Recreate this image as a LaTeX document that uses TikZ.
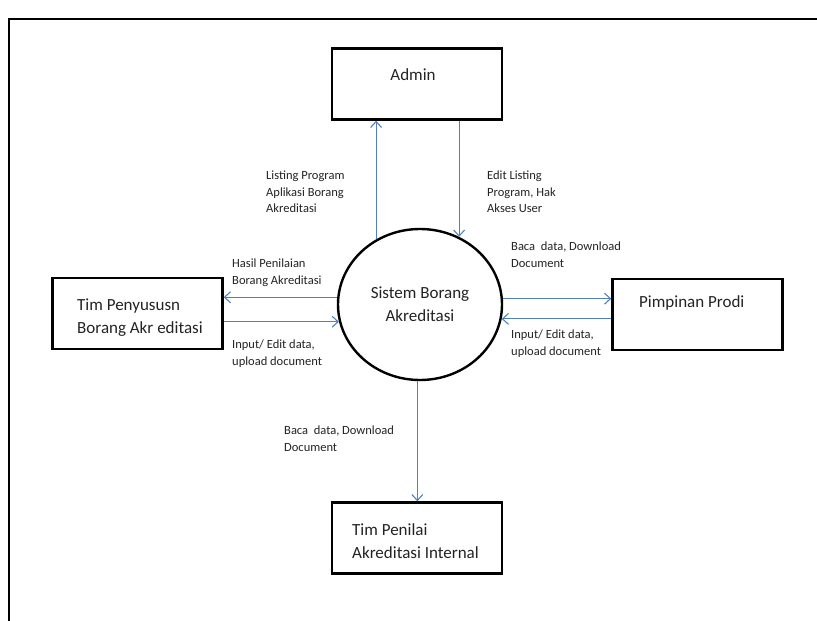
\documentclass[tikz,border=0pt]{standalone}
\usepackage{fontspec}
\setmainfont{Carlito}
\usetikzlibrary{arrows.meta,shapes.geometric}
\definecolor{flowblue}{RGB}{79,129,189}
\definecolor{inkgray}{RGB}{35,35,35}
\tikzset{
	box/.style={draw,line width=2.4pt,minimum width=170pt,minimum height=71pt,inner sep=0pt},
	boxtext/.style={anchor=west,align=left,inner sep=0pt,text=inkgray,font=\fontsize{17}{23}\selectfont},
	flow/.style={draw=flowblue,line width=1.1pt,-{Straight Barb[length=6pt,width=11pt]}},
	note/.style={anchor=north west,align=left,inner sep=0pt,text=inkgray,font=\fontsize{12.5}{16.5}\selectfont},
}
\begin{document}
\begin{tikzpicture}[x=1pt,y=-1pt]
			\useasboundingbox (0,0) rectangle (817,621);
			% frame
			\draw[line width=1.6pt] (9,621)--(9,19)--(817,19);
			% boxes and process
			\node[box] (admin) at (417,84) {};
			\node[box] (tim) at (137.5,313.5) {};
			\node[box] (pim) at (697.5,314.5) {};
			\node[box] (inter) at (417,538) {};
			\node[draw,ellipse,line width=2.4pt,minimum width=164pt,minimum height=151pt,inner sep=0pt,
				align=center,text=inkgray,font=\fontsize{17}{23}\selectfont] (sys) at (420,304.5) {Sistem Borang\\Akreditasi};
			\node[boxtext,anchor=center] (admintxt) at (413,75) {Admin};
			\node[boxtext] (timtxt) at (77,317.5) {Tim Penyususn\\Borang Akr editasi};
			\node[boxtext] (pimtxt) at (639,303) {Pimpinan Prodi};
			\node[boxtext] (intertxt) at (352,541) {Tim Penilai\\Akreditasi Internal};
			% flows
			\draw[flow] (sys.124)--(sys.124 |- admin.south);
			\draw[flow] (sys.60 |- admin.south)--(sys.60);
			\draw[flow] (sys.175)--(sys.175 -| tim.east);
			\draw[flow] (sys.-168 -| tim.east)--(sys.-168);
			\draw[flow] (sys.4)--(sys.4 -| pim.west);
			\draw[flow] (sys.-10 -| pim.west)--(sys.-10);
			\draw[flow] (sys.-92)--(sys.-92 |- inter.north);
			% flow labels
			\foreach \n/\p/\t in {l1/{266,171}/{Listing Program\\Aplikasi Borang\\Akreditasi},
				l2/{487,171}/{Edit Listing\\Program, Hak\\Akses User},
				l3/{511,242}/{Baca\ \ data, Download\\Document},
				l4/{232,259}/{Hasil Penilaian\\Borang Akreditasi},
				l5/{232,340}/{Input/ Edit data,\\upload document},
				l6/{511,330}/{Input/ Edit data,\\upload document},
				l7/{284,426}/{Baca\ \ data, Download\\Document}}
				\node[note] (\n) at (\p) {\t};
		\end{tikzpicture}
\end{document}
